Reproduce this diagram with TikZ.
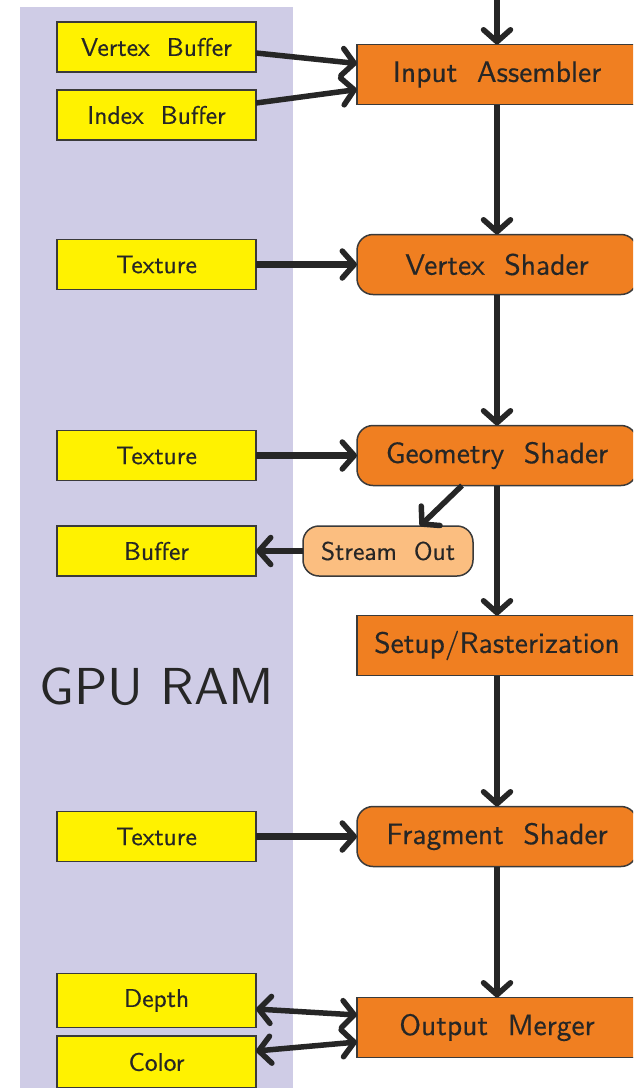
\documentclass[tikz,border=0pt]{standalone}
\usepackage{fontspec}
\newfontfamily\diagsans{lmsans10-regular}[Extension=.otf,FakeBold=0.35]
\newfontfamily\titlesans{lmsans10-regular}[Extension=.otf]
\usetikzlibrary{arrows.meta,calc}
\definecolor{ramback}{HTML}{CFCCE6}
\definecolor{bufyellow}{HTML}{FFF200}
\definecolor{stageorange}{HTML}{F07F21}
\definecolor{streamfill}{HTML}{FBBE80}
\definecolor{inkgray}{HTML}{262626}
\definecolor{edgegray}{HTML}{3A3A3A}

\begin{document}
\begin{tikzpicture}[x=1pt,y=-1pt,
  memory/.style={draw=edgegray,line width=1.5pt,fill=bufyellow,
    minimum width=199pt,minimum height=50pt,inner sep=0pt,outer sep=0pt,
    text=inkgray,font=\fontsize{25.5}{30}\selectfont\diagsans},
  stage/.style={draw=edgegray,line width=1.5pt,fill=stageorange,
    minimum width=280pt,minimum height=60pt,inner sep=0pt,outer sep=0pt,
    text=inkgray,font=\fontsize{29.5}{35}\selectfont\diagsans},
  roundstage/.style={stage,rounded corners=16pt},
  streambox/.style={draw=edgegray,line width=1.5pt,fill=streamfill,
    rounded corners=16pt,minimum width=170pt,minimum height=50pt,
    inner sep=0pt,outer sep=0pt,text=inkgray,
    font=\fontsize{25.5}{30}\selectfont\diagsans},
  tip/.tip={Straight Barb[length=12pt,width=27pt,line width=5.5pt,round]},
  flow/.style={draw=inkgray,line width=5.5pt,-tip},
  boldflow/.style={flow,line width=7.5pt},
  twoway/.style={draw=inkgray,line width=5.5pt,tip-tip},
]
\clip (0,0) rectangle (633,1088);
\fill[white] (0,0) rectangle (633,1088);
% memory column
\fill[ramback] (20,7) rectangle (293,1100);
\node[text=inkgray,font=\fontsize{52}{58}\selectfont\titlesans] (ram) at (157,687) {GPU RAM};

% resources in GPU memory
\node[memory] (vb)   at (156.5,47)   {Vertex~~Buffer};
\node[memory] (ib)   at (156.5,115)  {Index~~Buffer};
\node[memory] (tex1) at (156.5,264.5){Texture};
\node[memory] (tex2) at (156.5,455.5){Texture};
\node[memory] (buf)  at (156.5,551)  {Buffer};
\node[memory] (tex3) at (156.5,836.5){Texture};
\node[memory,minimum height=54pt] (depth) at (156.5,1000.5) {Depth};
\node[memory,minimum height=52pt] (color) at (156.5,1062)   {Color};

% pipeline stages
\node[stage]      (ia) at (497,74.5)  {Input~~Assembler};
\node[roundstage] (vs) at (497,264.5) {Vertex~~Shader};
\node[roundstage] (gs) at (497,455.5) {Geometry~~Shader};
\node[streambox]  (so) at (388,551)   {Stream~~Out};
\node[stage]      (sr) at (497,645.5) {Setup/Rasterization};
\node[roundstage] (fs) at (497,836.5) {Fragment~~Shader};
\node[stage]      (om) at (497,1027.5){Output~~Merger};

% pipeline flow
\coordinate (feed) at (497,0);
\draw[flow] (feed) -- (ia.north);
\draw[flow] (ia.south) -- (vs.north);
\draw[flow] (vs.south) -- (gs.north);
\draw[flow] (gs.south) -- (sr.north);
\draw[flow] (sr.south) -- (fs.north);
\draw[flow] (fs.south) -- (om.north);
\draw[flow] ($(gs.south)+(-35,0)$) -- ($(so.north)+(32,0)$);

% memory reads and writes
\draw[flow] ($(vb.east)+(0,6)$) -- ($(ia.west)+(0,-11)$);
\draw[flow] ($(ib.east)+(0,-12)$) -- ($(ia.west)+(0,15)$);
\draw[boldflow] (tex1.east) -- (vs.west);
\draw[boldflow] (tex2.east) -- (gs.west);
\draw[flow] (so.west) -- (buf.east);
\draw[boldflow] (tex3.east) -- (fs.west);
\draw[twoway] ($(depth.east)+(0,8.5)$) -- ($(om.west)+(0,-12.5)$);
\draw[twoway] ($(color.east)+(0,-11)$) -- ($(om.west)+(0,14.5)$);
\end{tikzpicture}
\end{document}
